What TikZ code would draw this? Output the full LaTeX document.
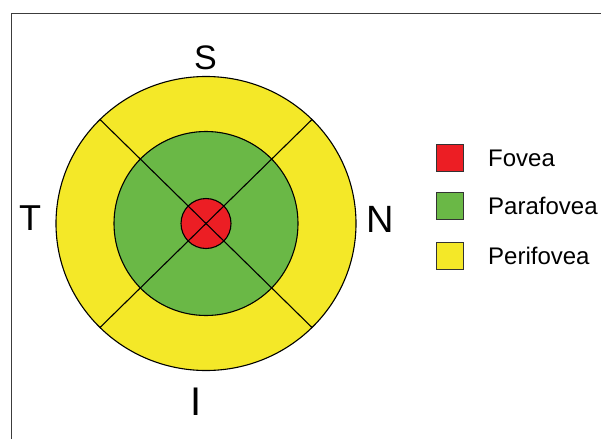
\documentclass[tikz,border=0pt]{standalone}
\usepackage{fontspec}
\setmainfont{Liberation Sans}
\usetikzlibrary{calc}
\definecolor{fovred}{RGB}{236,30,36}
\definecolor{pargreen}{RGB}{106,184,70}
\definecolor{periyellow}{RGB}{244,232,40}
\definecolor{framegray}{RGB}{60,60,60}
\begin{document}
\begin{tikzpicture}[x=1pt,y=-1pt,
  zone/.style={draw=black,line width=1.1pt},
  divider/.style={draw=black,line width=1.1pt},
  sidelabel/.style={inner sep=0pt,anchor=base,text=black},
  legbox/.style={draw=black!80,line width=0.8pt,minimum width=27pt,minimum height=27pt,inner sep=0pt},
  legtext/.style={inner sep=0pt,anchor=base west,font=\fontsize{24}{28}\selectfont}]
\useasboundingbox (0,0) rectangle (601,439);
\fill[white] (0,0) rectangle (601,439);
\draw[framegray,line width=0.9pt] (11,439) -- (11,13) -- (601,13);
% zones
\coordinate (c) at (206,223.5);
\path[zone,fill=periyellow] (c) ellipse [x radius=150,y radius=147];
\path[zone,fill=pargreen] (c) circle [radius=92];
\path[zone,fill=fovred] (c) circle [radius=25];
\coordinate (ul) at ($(c)+(-106,-104)$);
\coordinate (lr) at ($(c)+(106,104)$);
\coordinate (ur) at ($(c)+(106,-104)$);
\coordinate (ll) at ($(c)+(-106,104)$);
\draw[divider] (ul) -- (lr);
\draw[divider] (ur) -- (ll);
% side labels
\node[sidelabel,font=\fontsize{34}{40}\selectfont] (S) at (205.5,69) {S};
\node[sidelabel,font=\fontsize{36}{40}\selectfont] (T) at (30,230) {T};
\node[sidelabel,font=\fontsize{38}{40}\selectfont] (N) at (380,232) {N};
\node[sidelabel,font=\fontsize{40}{44}\selectfont] (I) at (196.5,415) {I};
% legend
\node[legbox,fill=fovred] (b1) at (450,158) {};
\node[legbox,fill=pargreen] (b2) at (450,205.5) {};
\node[legbox,fill=periyellow] (b3) at (450,255.5) {};
\node[legtext] (t1) at (488,166) {Fovea};
\node[legtext] (t2) at (488,214) {Parafovea};
\node[legtext] (t3) at (488,264) {Perifovea};
\end{tikzpicture}
\end{document}
